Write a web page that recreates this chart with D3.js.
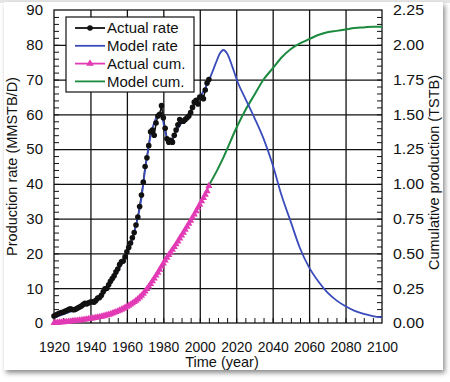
<!DOCTYPE html>
<html>
<head>
<meta charset="utf-8">
<script src="https://cdn.jsdelivr.net/npm/d3@7"></script>
<style>
  body { margin: 0; background: #fff; }
  text { font-family: "Liberation Sans", Arial, sans-serif; fill: #111; }
</style>
</head>
<body>
<div id="chart"></div>
<script>
// Actual production rate (MMSTB/D), one point per year 1920-2005
var actualYears = d3.range(1920, 2006);
var actualRate = [2.0, 2.3, 2.6, 2.8, 3.0, 3.1, 3.4, 3.6, 3.9, 4.1,
  3.9, 3.8, 4.0, 4.3, 4.6, 4.9, 5.3, 5.7, 5.5, 5.8,
  6.0, 6.1, 6.0, 6.5, 7.2, 7.3, 8.0, 9.0, 9.8, 10.0,
  11.0, 12.0, 12.8, 13.6, 14.7, 15.5, 16.8, 17.6, 17.8, 19.0,
  20.5, 21.7, 23.0, 24.5, 26.0, 28.2, 30.5, 33.5, 36.8, 40.5,
  45.0, 47.5, 51.0, 55.0, 55.5, 54.0, 57.5, 59.5, 60.0, 62.5,
  59.0, 56.0, 53.0, 52.0, 52.5, 52.0, 54.0, 55.5, 57.0, 58.5,
  58.0, 58.0, 58.5, 59.0, 59.5, 60.5, 62.0, 63.5, 64.0, 63.0,
  65.0, 65.0, 64.5, 67.0, 69.0, 70.0];

// Actual cumulative production (TSTB), same years
var actualCum = [0.000, 0.002, 0.003, 0.004, 0.005, 0.006, 0.008, 0.009, 0.010, 0.012,
  0.013, 0.015, 0.016, 0.018, 0.019, 0.021, 0.023, 0.025, 0.027, 0.029,
  0.031, 0.033, 0.036, 0.038, 0.041, 0.043, 0.046, 0.049, 0.053, 0.056,
  0.060, 0.064, 0.069, 0.074, 0.079, 0.084, 0.090, 0.096, 0.103, 0.110,
  0.117, 0.125, 0.133, 0.142, 0.151, 0.161, 0.172, 0.184, 0.197, 0.211,
  0.227, 0.244, 0.262, 0.281, 0.301, 0.321, 0.341, 0.362, 0.384, 0.406,
  0.429, 0.450, 0.470, 0.489, 0.508, 0.527, 0.546, 0.566, 0.587, 0.608,
  0.629, 0.650, 0.671, 0.693, 0.714, 0.736, 0.758, 0.781, 0.804, 0.828,
  0.851, 0.875, 0.899, 0.923, 0.948, 0.985];

// Model rate (MMSTB/D)
var modelYears = [1920, 1925, 1930, 1935, 1940, 1945, 1950, 1955, 1960, 1965,
  1968, 1970, 1972, 1974, 1976, 1978, 1979, 1981, 1983, 1985,
  1987, 1990, 1993, 1996, 2000, 2003, 2006, 2009, 2011, 2013,
  2015, 2018, 2021, 2025, 2030, 2035, 2040, 2045, 2050, 2055,
  2060, 2065, 2070, 2075, 2080, 2085, 2090, 2095, 2100];
var modelRate = [1.5, 2.5, 3.5, 4.5, 5.8, 7.5, 10.5, 15.0, 20.0, 28.0,
  36.0, 44.0, 51.0, 56.0, 59.0, 60.5, 60.0, 55.0, 52.5, 53.0,
  55.0, 57.5, 59.0, 62.0, 65.0, 67.5, 71.0, 75.0, 77.5, 78.5,
  77.5, 73.5, 69.0, 64.5, 59.0, 53.0, 45.5, 36.5, 29.0, 21.5,
  16.0, 12.0, 8.8, 6.5, 4.8, 3.5, 2.6, 2.0, 1.6];

// Model cumulative production (TSTB)
var cumYears = [2005, 2010, 2013, 2015, 2020, 2025, 2030, 2035, 2040, 2045,
  2050, 2055, 2060, 2065, 2070, 2075, 2080, 2085, 2090, 2095, 2100];
var modelCum = [0.99, 1.11, 1.19, 1.25, 1.40, 1.53, 1.64, 1.75, 1.83, 1.91,
  1.97, 2.01, 2.04, 2.07, 2.09, 2.10, 2.11, 2.12, 2.125, 2.13, 2.13];

var legendLabels = ["Actual rate", "Model rate", "Actual cum.", "Model cum."];

var svgWidth = 450;
var svgHeight = 382;
var margin = { top: 10, right: 68, bottom: 59, left: 54 };
var width = svgWidth - margin.left - margin.right;
var height = svgHeight - margin.top - margin.bottom;

var svg = d3.select("#chart")
  .append("svg")
  .attr("width", svgWidth)
  .attr("height", svgHeight);

// drop shadow for the figure panel
var filter = svg.append("defs").append("filter")
  .attr("id", "shadow")
  .attr("x", "-5%").attr("y", "-5%")
  .attr("width", "115%").attr("height", "115%");
filter.append("feDropShadow")
  .attr("dx", 2).attr("dy", 3)
  .attr("stdDeviation", 2.5)
  .attr("flood-color", "#000")
  .attr("flood-opacity", 0.45);

svg.append("rect")
  .attr("x", 0).attr("y", 0)
  .attr("width", svgWidth).attr("height", 3)
  .attr("fill", "#e6e6e6");

svg.append("rect")
  .attr("x", 4).attr("y", 2)
  .attr("width", 439).attr("height", 368)
  .attr("fill", "#fff")
  .attr("filter", "url(#shadow)");

var chartGroup = svg.append("g")
  .attr("transform", `translate(${margin.left}, ${margin.top})`);

// scales
var xScale = d3.scaleLinear().domain([1920, 2100]).range([0, width]);
var yLeft = d3.scaleLinear().domain([0, 90]).range([height, 0]);
var yRight = d3.scaleLinear().domain([0, 2.25]).range([height, 0]);

// grid lines
chartGroup.append("g")
  .attr("class", "grid")
  .call(d3.axisBottom(xScale).tickValues(d3.range(1940, 2100, 20)).tickSize(height).tickFormat(""))
  .call(g => g.select(".domain").remove());
chartGroup.append("g")
  .attr("class", "grid")
  .call(d3.axisLeft(yLeft).tickValues(d3.range(10, 90, 10)).tickSize(-width).tickFormat(""))
  .call(g => g.select(".domain").remove());
chartGroup.selectAll(".grid line")
  .attr("stroke", "#111")
  .attr("stroke-width", 1.3);

// minor ticks, inside the frame
chartGroup.append("g")
  .attr("transform", `translate(0, ${height})`)
  .attr("class", "minor")
  .call(d3.axisTop(xScale).tickValues(d3.range(1925, 2100, 5)).tickSize(5).tickFormat(""));
chartGroup.append("g")
  .attr("class", "minor")
  .call(d3.axisRight(yLeft).tickValues(d3.range(2, 90, 2)).tickSize(5).tickFormat(""));
chartGroup.append("g")
  .attr("transform", `translate(${width}, 0)`)
  .attr("class", "minor")
  .call(d3.axisLeft(yRight).tickValues(d3.range(0.05, 2.25, 0.05)).tickSize(5).tickFormat(""));
chartGroup.selectAll(".minor .domain").remove();
chartGroup.selectAll(".minor line").attr("stroke", "#111").attr("stroke-width", 1);

// tick labels
var bottomAxis = chartGroup.append("g")
  .attr("transform", `translate(0, ${height})`)
  .call(d3.axisBottom(xScale).tickValues(d3.range(1920, 2101, 20)).tickSize(0).tickPadding(18)
    .tickFormat(d3.format("d")));
var leftAxis = chartGroup.append("g")
  .call(d3.axisLeft(yLeft).tickValues(d3.range(0, 91, 10)).tickSize(0).tickPadding(11));
var rightAxis = chartGroup.append("g")
  .attr("transform", `translate(${width}, 0)`)
  .call(d3.axisRight(yRight).tickValues(d3.range(0, 2.26, 0.25)).tickSize(0).tickPadding(11)
    .tickFormat(d3.format(".2f")));
[bottomAxis, leftAxis, rightAxis].forEach(function(a) {
  a.select(".domain").remove();
  a.selectAll("text").attr("font-size", 15).style("font-family", "'Liberation Sans', Arial, sans-serif").attr("fill", "#111");
});
bottomAxis.selectAll("text")
  .attr("textLength", 31)
  .attr("lengthAdjust", "spacingAndGlyphs");
rightAxis.selectAll("text")
  .attr("textLength", 31)
  .attr("lengthAdjust", "spacingAndGlyphs");

// frame
chartGroup.append("rect")
  .attr("width", width).attr("height", height)
  .attr("fill", "none")
  .attr("stroke", "#111")
  .attr("stroke-width", 1.3);

// series
var actualData = actualYears.map((yr, i) => ({ x: yr, r: actualRate[i], c: actualCum[i] }));
var modelData = modelYears.map((yr, i) => ({ x: yr, r: modelRate[i] }));
var cumData = cumYears.map((yr, i) => ({ x: yr, c: modelCum[i] }));

var rateLine = d3.line().x(d => xScale(d.x)).y(d => yLeft(d.r));
var cumLine = d3.line().x(d => xScale(d.x)).y(d => yRight(d.c));

var blue = "#3a4cbb";
var pink = "#e23ab4";
var green = "#1b8a3e";

chartGroup.append("path")
  .datum(cumData)
  .attr("d", cumLine.curve(d3.curveMonotoneX))
  .attr("fill", "none")
  .attr("stroke", green)
  .attr("stroke-width", 2);

chartGroup.append("path")
  .datum(actualData)
  .attr("d", d3.line().x(d => xScale(d.x)).y(d => yRight(d.c)))
  .attr("fill", "none")
  .attr("stroke", pink)
  .attr("stroke-width", 1.5);

chartGroup.selectAll(".tri")
  .data(actualData)
  .enter()
  .append("path")
  .attr("class", "tri")
  .attr("transform", d => `translate(${xScale(d.x)}, ${yRight(d.c)})`)
  .attr("d", d3.symbol(d3.symbolTriangle, 22))
  .attr("fill", pink);

chartGroup.append("path")
  .datum(actualData)
  .attr("d", rateLine)
  .attr("fill", "none")
  .attr("stroke", "#111")
  .attr("stroke-width", 1.5);

chartGroup.append("path")
  .datum(modelData)
  .attr("d", d3.line().x(d => xScale(d.x)).y(d => yLeft(d.r)).curve(d3.curveMonotoneX))
  .attr("fill", "none")
  .attr("stroke", blue)
  .attr("stroke-width", 1.8);

chartGroup.selectAll(".dot")
  .data(actualData)
  .enter()
  .append("circle")
  .attr("class", "dot")
  .attr("cx", d => xScale(d.x))
  .attr("cy", d => yLeft(d.r))
  .attr("r", 2.8)
  .attr("fill", "#111");

// legend
var legend = chartGroup.append("g")
  .attr("transform", "translate(12, 7)");
legend.append("rect")
  .attr("width", 128).attr("height", 75)
  .attr("fill", "#fff")
  .attr("stroke", "#111")
  .attr("stroke-width", 1.2);

var legendColors = ["#111", blue, pink, green];
legendLabels.forEach(function(label, i) {
  var ly = 11 + i * 17.8;
  legend.append("line")
    .attr("x1", 9).attr("x2", 39)
    .attr("y1", ly).attr("y2", ly)
    .attr("stroke", legendColors[i])
    .attr("stroke-width", 1.8);
  if (i === 0) {
    legend.append("circle").attr("cx", 24).attr("cy", ly).attr("r", 2.8).attr("fill", "#111");
  }
  if (i === 2) {
    legend.append("path")
      .attr("transform", `translate(24, ${ly})`)
      .attr("d", d3.symbol(d3.symbolTriangle, 26))
      .attr("fill", pink);
  }
  legend.append("text")
    .attr("x", 41).attr("y", ly)
    .attr("dy", "0.36em")
    .attr("font-size", 15)
    .text(label);
});

// axis titles
svg.append("text")
  .attr("transform", `translate(17, ${margin.top + height / 2}) rotate(-90)`)
  .attr("text-anchor", "middle")
  .attr("font-size", 14.5)
  .text("Production rate (MMSTB/D)");

svg.append("text")
  .attr("transform", `translate(439, ${margin.top + height / 2 + 6}) rotate(-90)`)
  .attr("text-anchor", "middle")
  .attr("font-size", 14.5)
  .text("Cumulative production (TSTB)");

svg.append("text")
  .attr("x", margin.left + width / 2 + 4)
  .attr("y", 367)
  .attr("text-anchor", "middle")
  .attr("font-size", 14.5)
  .text("Time (year)");
</script>
</body>
</html>
